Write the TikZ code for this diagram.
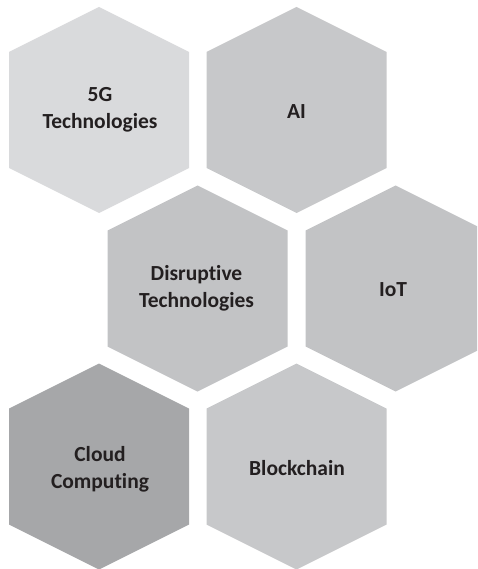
\documentclass[tikz,border=0pt]{standalone}
\usepackage{fontspec}
\setmainfont{Carlito}[Ligatures={NoCommon,NoContextual}]
\definecolor{hexlight}{HTML}{D9DADC}
\definecolor{hexmid}{HTML}{C7C8CA}
\definecolor{hexmidb}{HTML}{C2C3C5}
\definecolor{hexdark}{HTML}{A6A7A9}
\definecolor{hextext}{HTML}{231F20}
\begin{document}
\begin{tikzpicture}[x=1pt,y=1pt]
				\tikzstyle{every node}+=[inner sep=0pt, align=center, text=hextext, font=\bfseries\fontsize{21.5}{27}\selectfont]
				\useasboundingbox (0,0) rectangle (477,-569);
				\clip (0,0) rectangle (477,-569);
				% top row
				\fill [hexlight] (99,-110) +(0,103) -- +(90,58) -- +(90,-58) -- +(0,-103) -- +(-90,-58) -- +(-90,58) -- cycle;
				\node (fiveg) at (100,-110) {5G\\Technologies};
				\fill [hexmid] (296.5,-110) +(0,103) -- +(90,58) -- +(90,-58) -- +(0,-103) -- +(-90,-58) -- +(-90,58) -- cycle;
				\node (ai) at (296.5,-112) {AI};
				% middle row
				\fill [hexmidb] (197.5,-288.5) +(0,103) -- +(90,58) -- +(90,-58) -- +(0,-103) -- +(-90,-58) -- +(-90,58) -- cycle;
				\node (disrupt) at (196.5,-288) {Disruptive\\Technologies};
				\fill [hexmidb] (395.5,-288.5) +(0,103) -- +(90,58) -- +(90,-58) -- +(0,-103) -- +(-90,-58) -- +(-90,58) -- cycle;
				\node (iot) at (393,-290) {IoT};
				% bottom row
				\fill [hexdark] (99,-466.5) +(0,103) -- +(90,58) -- +(90,-58) -- +(0,-103) -- +(-90,-58) -- +(-90,58) -- cycle;
				\node (cloud) at (100,-469) {Cloud\\Computing};
				\fill [hexmid] (296.5,-466.5) +(0,103) -- +(90,58) -- +(90,-58) -- +(0,-103) -- +(-90,-58) -- +(-90,58) -- cycle;
				\node (block) at (297,-468) {Blockchain};
\end{tikzpicture}
\end{document}
